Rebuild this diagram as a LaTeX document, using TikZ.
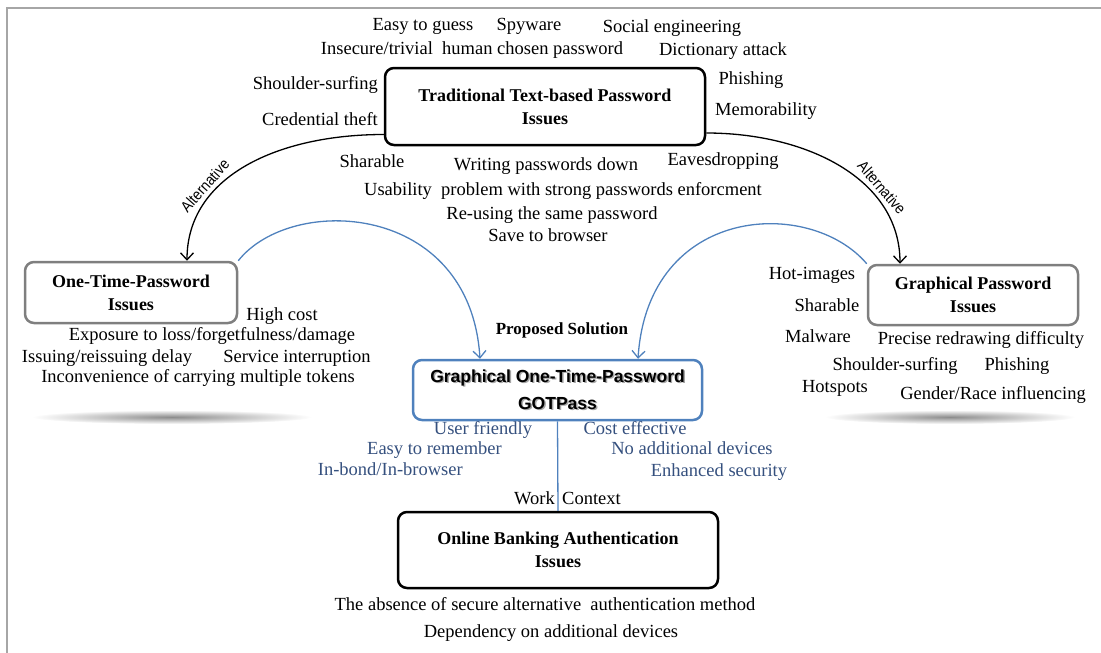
\documentclass[tikz,border=0pt]{standalone}
\usepackage{fontspec}
\setmainfont{Liberation Serif}
\newfontfamily\gsans{Liberation Sans}
\newfontfamily\narrowsans[FakeStretch=0.88]{Liberation Sans}
\usetikzlibrary{arrows.meta}
\definecolor{boxblue}{HTML}{4F81BD}
\definecolor{txtblue}{HTML}{35507E}
\definecolor{boxgray}{HTML}{7F7F7F}
\definecolor{framegray}{HTML}{A6A6A6}
\newcommand\shadowtext[1]{\rlap{\kern1.5pt\raisebox{-1.5pt}{\textcolor{black!35}{#1}}}#1}
\tikzset{
  lbl/.style={inner sep=0pt, anchor=mid, font=\fontsize{18.5}{21}\selectfont},
  blbl/.style={lbl, text=txtblue},
  issuebox/.style={draw, rounded corners=9pt, line width=2.5pt, align=center, inner sep=0pt,
    font=\fontsize{18}{23}\selectfont\bfseries},
  blkarc/.style={line width=1.3pt, -{Straight Barb[length=7pt,width=13pt]}},
  bluarc/.style={boxblue, line width=1.3pt, -{Straight Barb[length=7pt,width=13pt]}},
  altlbl/.style={inner sep=0pt, font=\narrowsans\fontsize{15.5}{16}\selectfont},
}
\begin{document}
\begin{tikzpicture}[x=1pt,y=-1pt]
\useasboundingbox (0,0) rectangle (1101,653);
\draw[framegray, line width=2pt] (6.5,653) -- (6.5,7.5) -- (1101,7.5);

% shadows
\shade[inner color=black!45, outer color=white] (172,417) ellipse (140 and 7);
\shade[inner color=black!45, outer color=white] (950,417) ellipse (125 and 7);

% boxes
\node[issuebox, minimum width=320pt, minimum height=77pt] (trad) at (545,106.5)
  {Traditional Text-based Password\\Issues};
\node[issuebox, draw=boxgray, minimum width=212pt, minimum height=61pt] (otp) at (131,292.5)
  {One-Time-Password\\Issues};
\node[issuebox, draw=boxgray, minimum width=210pt, minimum height=60pt] (graph) at (973,295)
  {Graphical Password\\Issues};
\node[issuebox, draw=boxblue, minimum width=289pt, minimum height=60pt,
  font=\gsans\fontsize{17.5}{27}\selectfont\bfseries] (got) at (557.5,390)
  {\shadowtext{Graphical One-Time-Password}\\\shadowtext{GOTPass}};
\node[issuebox, minimum width=320pt, minimum height=76pt] (bank) at (558,550)
  {Online Banking Authentication\\Issues};

% connectors
\draw[blkarc] ([yshift=-28pt]trad.west) .. controls +(-105,0) and +(0,-85) .. ([xshift=56pt]otp.north)
  node[altlbl, pos=0.68, sloped, above=4pt] {Alternative};
\draw[blkarc] ([yshift=-26.5pt]trad.east) .. controls +(100,0) and +(0,-85) .. ([xshift=-73pt]graph.north)
  node[altlbl, pos=0.68, sloped, above=4pt] {Alternative};
\draw[bluarc] (otp.north east) .. controls +(53,-67) and +(-10,-157) .. ([xshift=-77.5pt]got.north);
\draw[bluarc] (graph.north west) .. controls +(-57,-67) and +(10,-154) .. ([xshift=80.5pt]got.north);
\draw[boxblue, line width=1.3pt] (got.south) -- (bank.north);

% traditional issues
\node[lbl] (t1) at (423,28) {Easy to guess};
\node[lbl] (t2) at (529,28) {Spyware};
\node[lbl] (t3) at (672,30) {Social engineering};
\node[lbl] (t4) at (472,52) {Insecure/trivial~ human chosen password};
\node[lbl] (t5) at (723,53) {Dictionary attack};
\node[lbl, anchor=mid east] (t6) at (378,87) {Shoulder-surfing};
\node[lbl] (t7) at (751,82) {Phishing};
\node[lbl, anchor=mid east] (t8) at (378,123) {Credential theft};
\node[lbl, anchor=mid west] (t9) at (715,113) {Memorability};
\node[lbl] (t10) at (372,165) {Sharable};
\node[lbl] (t11) at (546,168) {Writing passwords down};
\node[lbl] (t12) at (723,163) {Eavesdropping};
\node[lbl] (t13) at (563,193) {Usability~ problem with strong passwords enforcment};
\node[lbl] (t14) at (552,217) {Re-using the same password};
\node[lbl] (t15) at (548,239) {Save to browser};

% OTP issues
\node[lbl] (o1) at (282,318) {High cost};
\node[lbl] (o2) at (212,338) {Exposure to loss/forgetfulness/damage};
\node[lbl] (o3) at (107,360) {Issuing/reissuing delay};
\node[lbl] (o4) at (297,360) {Service interruption};
\node[lbl] (o5) at (198,380) {Inconvenience of carrying multiple tokens};

% graphical issues
\node[lbl] (g1) at (812,277) {Hot-images};
\node[lbl] (g2) at (827,309) {Sharable};
\node[lbl] (g3) at (818,340) {Malware};
\node[lbl] (g4) at (981,342) {Precise redrawing difficulty};
\node[lbl] (g5) at (895,368) {Shoulder-surfing};
\node[lbl] (g6) at (1017,368) {Phishing};
\node[lbl] (g7) at (835,390) {Hotspots};
\node[lbl] (g8) at (993,397) {Gender/Race influencing};

% proposed solution
\node[lbl, font=\fontsize{17}{20}\selectfont\bfseries] (ps) at (562,332) {Proposed Solution};
\node[blbl] (b1) at (483,432) {User friendly};
\node[blbl, anchor=mid east] (b2) at (502,452) {Easy to remember};
\node[blbl, anchor=mid east] (b3) at (463,473) {In-bond/In-browser};
\node[blbl] (b4) at (635,432) {Cost effective};
\node[blbl] (b5) at (692,452) {No additional devices};
\node[blbl] (b6) at (719,474) {Enhanced security};
\node[lbl, anchor=mid east] (w1) at (555,502) {Work};
\node[lbl, anchor=mid west] (w2) at (562,502) {Context};

% banking issues
\node[lbl] (k1) at (545,608) {The absence of secure alternative~ authentication method};
\node[lbl] (k2) at (551,635) {Dependency on additional devices};
\end{tikzpicture}
\end{document}
